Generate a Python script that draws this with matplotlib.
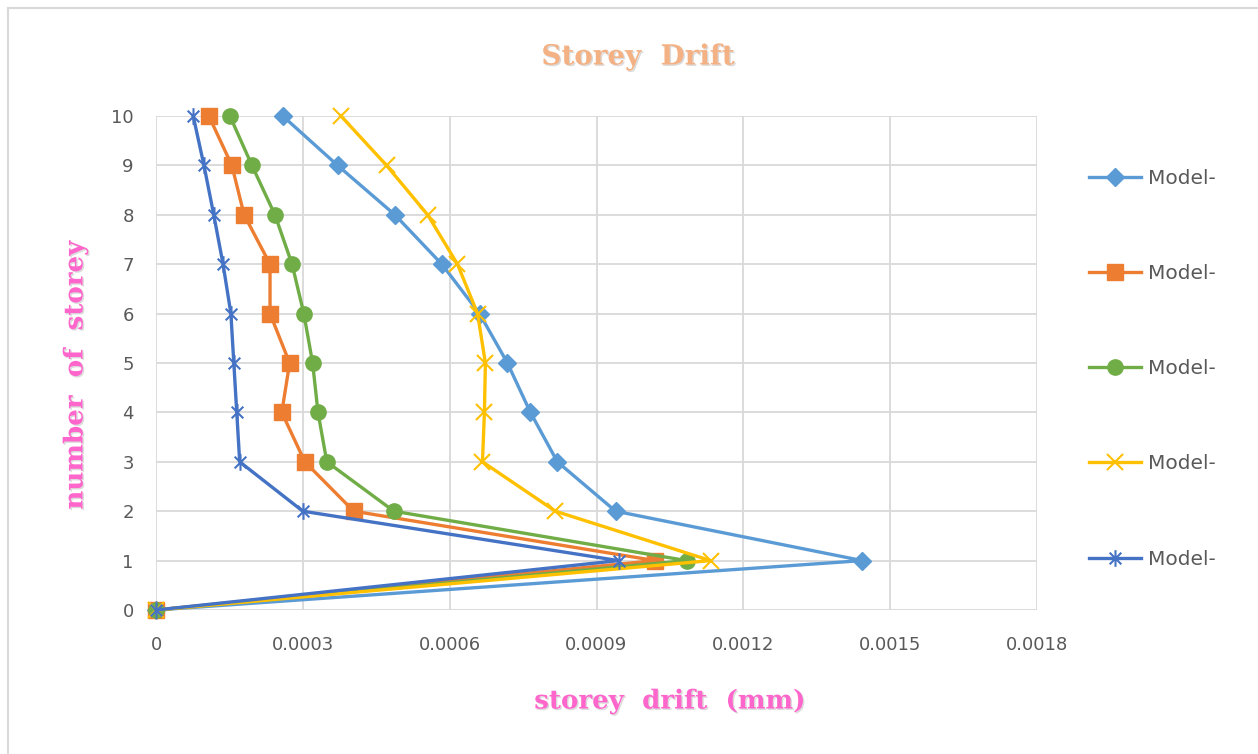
import numpy as np
import matplotlib.pyplot as plt
import matplotlib.patheffects as pe
from matplotlib.path import Path
from matplotlib.lines import Line2D

# storey numbers and drift for each model
storey = [0, 1, 2, 3, 4, 5, 6, 7, 8, 9, 10]
model1 = [0, 0.001443, 0.000939, 0.000820, 0.000765, 0.000718, 0.000661, 0.000584, 0.000488, 0.000371, 0.000259]
model2 = [0, 0.001020, 0.000404, 0.000304, 0.000257, 0.000273, 0.000233, 0.000233, 0.000180, 0.000155, 0.000108]
model3 = [0, 0.001084, 0.000486, 0.000349, 0.000331, 0.000320, 0.000302, 0.000278, 0.000243, 0.000196, 0.000151]
model4 = [0, 0.001133, 0.000816, 0.000667, 0.000671, 0.000673, 0.000657, 0.000616, 0.000555, 0.000471, 0.000378]
model5 = [0, 0.000945, 0.000300, 0.000171, 0.000165, 0.000159, 0.000153, 0.000137, 0.000118, 0.000098, 0.000076]
labels = ["Model-", "Model-", "Model-", "Model-", "Model-"]

xticks = [0, 0.0003, 0.0006, 0.0009, 0.0012, 0.0015, 0.0018]
xticklabels = ["0", "0.0003", "0.0006", "0.0009", "0.0012", "0.0015", "0.0018"]

# excel style star: an x with a vertical bar
star = Path([(-0.7, -0.7), (0.7, 0.7), (-0.7, 0.7), (0.7, -0.7), (0, -1), (0, 1)],
            [Path.MOVETO, Path.LINETO, Path.MOVETO, Path.LINETO, Path.MOVETO, Path.LINETO])

fig = plt.figure(figsize=(12.58, 7.54), dpi=100)
ax = fig.add_axes([156/1258, 1-610/754, 881/1258, 494/754])

lw = 2.4
ax.plot(model1, storey, color='#5B9BD5', lw=lw, marker='D', ms=9, label=labels[0], zorder=3, clip_on=False)
ax.plot(model2, storey, color='#ED7D31', lw=lw, marker='s', ms=11, label=labels[1], zorder=3, clip_on=False)
ax.plot(model3, storey, color='#70AD47', lw=lw, marker='o', ms=11, label=labels[2], zorder=3, clip_on=False)
ax.plot(model4, storey, color='#FFC000', lw=lw, marker='x', ms=11, mew=1.5, label=labels[3], zorder=3, clip_on=False)
ax.plot(model5, storey, color='#4472C4', lw=lw, marker=star, ms=12, mew=1.5, mfc='none', label=labels[4],
        zorder=3, clip_on=False)

ax.set_xlim(0, 0.0018)
ax.set_ylim(0, 10)
ax.set_xticks(xticks)
ax.set_xticklabels(xticklabels)
ax.set_yticks(range(0, 11))
ax.grid(True, color='#D9D9D9', lw=1.3)
ax.set_axisbelow(True)
for s in ax.spines.values():
    s.set_visible(False)
ax.tick_params(length=0, labelsize=13, labelcolor='#595959')
ax.tick_params(axis='x', pad=19)
ax.tick_params(axis='y', pad=16)

shadow = [pe.withSimplePatchShadow(offset=(1, -1), shadow_rgbFace='#888888', alpha=0.3)]
fig.text(638/1258, 1-57/754, "Storey  Drift", ha='center', va='center', fontsize=20,
         fontweight='bold', family='DejaVu Serif', color='#F4B183', path_effects=shadow)
fig.text(670/1258, 1-701/754, "storey  drift  (mm)", ha='center', va='center', fontsize=18.8,
         fontweight='bold', family='DejaVu Serif', color='#FF66CC', path_effects=shadow)
fig.text(75/1258, 1-375/754, "number  of  storey", ha='center', va='center', fontsize=18.8,
         rotation=90, fontweight='bold', family='DejaVu Serif', color='#FF66CC', path_effects=shadow)

leg = fig.legend(loc='upper left', bbox_to_anchor=(1071/1258, 1-151/754), frameon=False,
                 fontsize=14.5, labelcolor='#595959', labelspacing=3.78, handlelength=2.6,
                 handletextpad=0.3)

# chart area border (left and top edges)
fig.add_artist(Line2D([8/1258, 8/1258], [0, 1-8/754], transform=fig.transFigure, color='#D9D9D9', lw=1.5))
fig.add_artist(Line2D([8/1258, 1], [1-8/754, 1-8/754], transform=fig.transFigure, color='#D9D9D9', lw=1.5))

fig.savefig('out.png', dpi=100)
